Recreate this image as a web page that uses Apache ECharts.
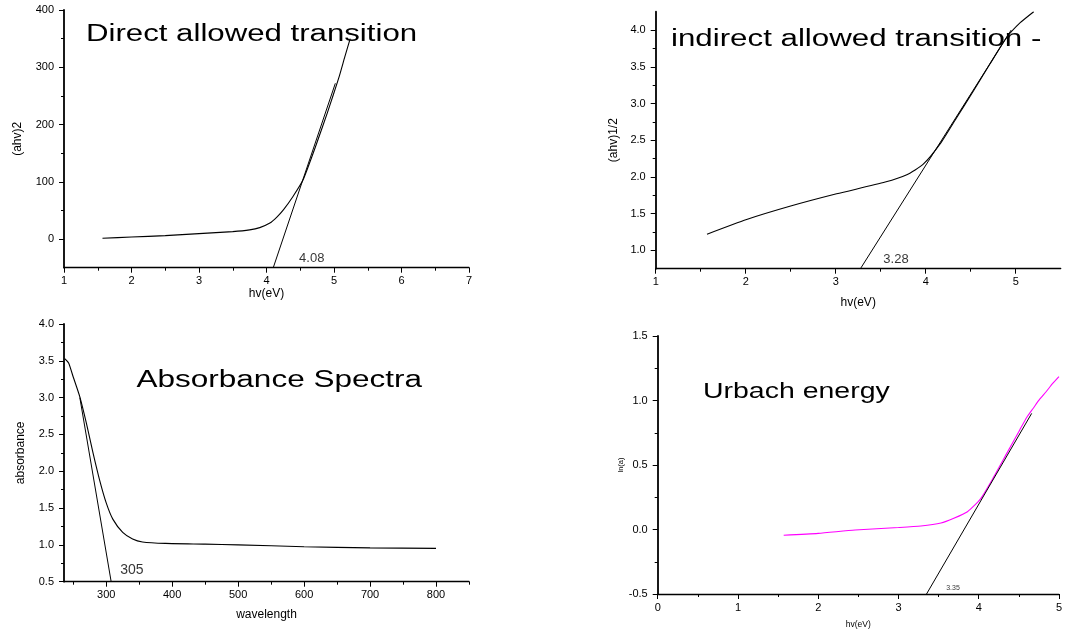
<!DOCTYPE html>
<html>
<head>
<meta charset="utf-8">
<script src="https://cdn.jsdelivr.net/npm/echarts@6/dist/echarts.min.js"></script>
<style>
html,body{margin:0;padding:0;background:#fff;}
#c{width:1065px;height:634px;}
</style>
</head>
<body>
<div id="c"></div>
<script>
// ---------- DATA ----------
// Panel 1: Direct allowed transition
const directX = [1.57, 2.0, 2.5, 3.0, 3.5, 3.75, 3.9, 4.05, 4.15, 4.25, 4.39, 4.54, 4.74, 4.9, 4.99, 5.08, 5.16, 5.24];
const directY = [1.5, 3.5, 6, 9.5, 13, 16, 20, 28, 38, 51, 74, 103, 166, 220, 252, 285, 318, 350];
const directFitX = [4.1, 5.02];
const directFitY = [-50, 272];
const directXTicks = [1, 2, 3, 4, 5, 6, 7];
const directXMinor = [1.5, 2.5, 3.5, 4.5, 5.5, 6.5];
const directYTicks = [0, 100, 200, 300, 400];
const directYMinor = [50, 150, 250, 350];
const directNote = ['4.08', 4.67, -33];

// Panel 2: indirect allowed transition
const indirectX = [1.57, 2.01, 2.49, 3.01, 3.55, 3.79, 3.97, 4.16, 4.34, 4.53, 4.71, 4.90, 5.05, 5.20];
const indirectY = [1.22, 1.42, 1.60, 1.77, 1.93, 2.03, 2.17, 2.45, 2.8, 3.17, 3.53, 3.9, 4.1, 4.25];
const indirectFitX = [3.28, 4.95];
const indirectFitY = [0.76, 4.0];
const indirectXTicks = [1, 2, 3, 4, 5];
const indirectXMinor = [1.5, 2.5, 3.5, 4.5];
const indirectYTicks = [1.0, 1.5, 2.0, 2.5, 3.0, 3.5, 4.0];
const indirectYMinor = [1.25, 1.75, 2.25, 2.75, 3.25, 3.75];
const indirectNote = ['3.28', 3.67, 0.88];

// Panel 3: Absorbance Spectra
const absX = [237, 243, 250, 260, 270, 280, 290, 300, 310, 325, 340, 355, 390, 450, 500, 600, 700, 800];
const absY = [3.53, 3.47, 3.28, 3.01, 2.65, 2.25, 1.88, 1.57, 1.35, 1.17, 1.08, 1.04, 1.02, 1.01, 1.0, 0.975, 0.96, 0.953];
const absFitX = [260, 307.5];
const absFitY = [3.0, 0.5];
const absXTicks = [300, 400, 500, 600, 700, 800];
const absXMinor = [250, 350, 450, 550, 650, 750, 850];
const absYTicks = [0.5, 1.0, 1.5, 2.0, 2.5, 3.0, 3.5, 4.0];
const absYMinor = [0.75, 1.25, 1.75, 2.25, 2.75, 3.25, 3.75];
const absNote = ['305', 339, 0.66];

// Panel 4: Urbach energy
const urbachX = [1.57, 2.0, 2.46, 3.0, 3.28, 3.53, 3.69, 3.86, 4.02, 4.19, 4.35, 4.51, 4.6, 4.68, 4.76, 4.84, 4.92, 5.0];
const urbachY = [-0.045, -0.03, -0.004, 0.015, 0.027, 0.05, 0.087, 0.138, 0.235, 0.41, 0.59, 0.77, 0.87, 0.94, 1.01, 1.068, 1.13, 1.185];
const urbachFitX = [3.35, 4.66];
const urbachFitY = [-0.5, 0.9];
const urbachXTicks = [0, 1, 2, 3, 4, 5];
const urbachXMinor = [0.5, 1.5, 2.5, 3.5, 4.5];
const urbachYTicks = [-0.5, 0.0, 0.5, 1.0, 1.5];
const urbachYMinor = [-0.25, 0.25, 0.75, 1.25];
const urbachNote = ['3.35', 3.68, -0.456];

// ---------- BUILD ----------
const FONT = '"Liberation Sans", Arial, Helvetica, sans-serif';
const zip = (a, b) => a.map((v, i) => [v, b[i]]);

const grids = [], xAxes = [], yAxes = [], series = [];

function addPanel(p) {
  const gi = grids.length;
  grids.push({left: p.grid[0], top: p.grid[1], width: p.grid[2], height: p.grid[3]});
  const xi = xAxes.length, yi = yAxes.length;
  const main = (dim, a) => ({
    type: 'value', gridIndex: gi, min: a.min, max: a.max,
    position: dim === 'x' ? 'bottom' : 'left',
    axisLine: {show: true, onZero: false, lineStyle: {color: '#000', width: dim === 'x' ? 1.3 : 1.8}},
    axisTick: {show: true, inside: false, length: 5, customValues: a.ticks, lineStyle: {color: '#000', width: 1}},
    axisLabel: {show: true, customValues: a.ticks, formatter: a.fmt, color: '#000', fontSize: a.labelSize || 11,
      fontFamily: FONT, margin: a.margin || 8},
    splitLine: {show: false},
    name: a.name, nameLocation: 'middle', nameGap: a.nameGap,
    nameTextStyle: {color: '#000', fontSize: a.nameSize, fontFamily: FONT}
  });
  const minor = (dim, a) => ({
    type: 'value', gridIndex: gi, min: a.min, max: a.max,
    position: dim === 'x' ? 'bottom' : 'left',
    axisLine: {show: false, onZero: false},
    axisTick: {show: true, inside: false, length: 3, customValues: a.minor, lineStyle: {color: '#000', width: 1}},
    axisLabel: {show: false},
    splitLine: {show: false}
  });
  xAxes.push(main('x', p.x), minor('x', p.x));
  yAxes.push(main('y', p.y), minor('y', p.y));
  series.push({
    type: 'line', xAxisIndex: xi, yAxisIndex: yi, data: zip(p.curveX, p.curveY),
    showSymbol: false, smooth: 0.2, silent: true,
    lineStyle: {color: p.color, width: 1.1}
  });
  series.push({
    type: 'line', xAxisIndex: xi, yAxisIndex: yi, data: zip(p.fitX, p.fitY),
    showSymbol: false, silent: true, lineStyle: {color: '#000', width: 1}
  });
  series.push({
    type: 'scatter', xAxisIndex: xi, yAxisIndex: yi, data: [[p.note[1], p.note[2]]],
    symbolSize: 1, itemStyle: {color: 'rgba(0,0,0,0)'}, silent: true,
    label: {show: true, position: 'inside', formatter: p.note[0], color: '#000',
      fontSize: p.noteSize, fontFamily: FONT}
  });
}

const f1 = v => v.toFixed(1);
const f0 = v => String(Math.round(v));

addPanel({
  grid: [64, 10, 405, 257.7],
  x: {min: 1, max: 7, ticks: directXTicks, minor: directXMinor, fmt: f0, name: 'hv(eV)', nameGap: 18, nameSize: 12},
  y: {min: -50, max: 400, ticks: directYTicks, minor: directYMinor, fmt: f0, name: '(ahv)2', nameGap: 40, nameSize: 12, margin: 10},
  curveX: directX, curveY: directY, fitX: directFitX, fitY: directFitY, note: directNote, noteSize: 13, color: '#000'
});
addPanel({
  grid: [655.7, 11.7, 405, 257],
  x: {min: 1, max: 5.5, ticks: indirectXTicks, minor: indirectXMinor, fmt: f0, name: 'hv(eV)', nameGap: 28, nameSize: 12},
  y: {min: 0.75, max: 4.25, ticks: indirectYTicks, minor: indirectYMinor, fmt: f1, name: '(ahv)1/2', nameGap: 36, nameSize: 12, margin: 10},
  curveX: indirectX, curveY: indirectY, fitX: indirectFitX, fitY: indirectFitY, note: indirectNote, noteSize: 13, color: '#000'
});
addPanel({
  grid: [64, 324, 405, 257.7],
  x: {min: 236, max: 850, ticks: absXTicks, minor: absXMinor, fmt: f0, name: 'wavelength', nameGap: 27, nameSize: 12},
  y: {min: 0.5, max: 4.0, ticks: absYTicks, minor: absYMinor, fmt: f1, name: 'absorbance', nameGap: 37, nameSize: 12, margin: 10},
  curveX: absX, curveY: absY, fitX: absFitX, fitY: absFitY, note: absNote, noteSize: 14, color: '#000'
});
addPanel({
  grid: [657.7, 336, 405, 258],
  x: {min: 0, max: 5, ticks: urbachXTicks, minor: urbachXMinor, fmt: f0, name: 'hv(eV)', nameGap: 26, nameSize: 8.5},
  y: {min: -0.5, max: 1.5, ticks: urbachYTicks, minor: urbachYMinor, fmt: f1, name: 'ln(a)', nameGap: 28, nameSize: 7.5, margin: 10},
  curveX: urbachX, curveY: urbachY, fitX: urbachFitX, fitY: urbachFitY, note: urbachNote, noteSize: 7, color: '#ff00ff'
});

function title(text, x, y, size, sx) {
  return {
    type: 'text', x: x, y: y, scaleX: sx, scaleY: 1, silent: true, z: 100,
    style: {text: text, font: size + 'px ' + FONT, fill: '#000',
      textAlign: 'left', textVerticalAlign: 'middle', align: 'left', verticalAlign: 'middle'}
  };
}

const option = {
  animation: false,
  backgroundColor: '#fff',
  grid: grids,
  xAxis: xAxes,
  yAxis: yAxes,
  series: series,
  graphic: [
    title('Direct allowed transition', 86, 35, 23, 1.356),
    title('indirect allowed transition -', 671, 40, 23, 1.36),
    title('Absorbance Spectra', 136.5, 381, 23, 1.37),
    title('Urbach energy', 703, 392, 22.5, 1.265)
  ]
};

const chart = echarts.init(document.getElementById('c'), null, {renderer: 'canvas'});
chart.setOption(option);
</script>
</body>
</html>
